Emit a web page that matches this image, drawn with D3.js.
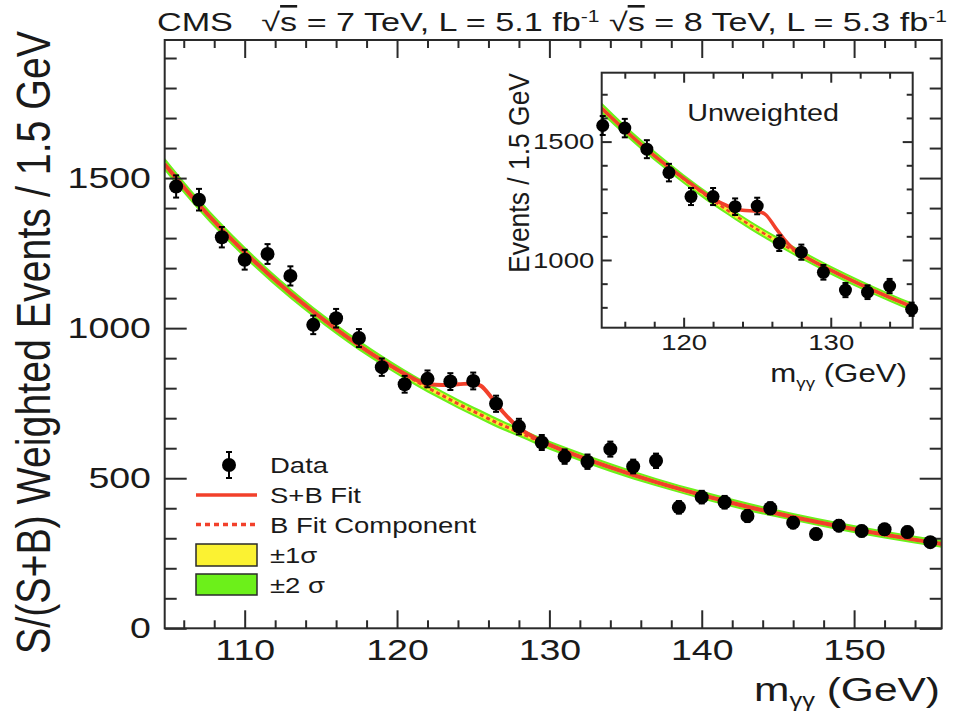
<!DOCTYPE html>
<html>
<head>
<meta charset="utf-8">
<script src="https://cdn.jsdelivr.net/npm/d3@7"></script>
<style>
  body { margin: 0; background: #fff; }
  svg { display: block; }
  text { font-family: "Liberation Sans", Arial, sans-serif; fill: #1a1a1a; }
</style>
</head>
<body>
<div class="chart"></div>
<script>
// ---- main plot: S/(S+B) weighted events, 1.5 GeV bins ----
const massBins = [105.5, 107, 108.5, 110, 111.5, 113, 114.5, 116, 117.5, 119, 120.5, 122,
  123.5, 125, 126.5, 128, 129.5, 131, 132.5, 134, 135.5, 137, 138.5, 140, 141.5, 143,
  144.5, 146, 147.5, 149, 150.5, 152, 153.5, 155]
const weightedEvents = [1472, 1428, 1303, 1228, 1247, 1174, 1011, 1033, 967, 870, 813, 831,
  822, 824, 748, 672, 619, 572, 555, 597, 539, 558, 403, 437, 420, 374, 400, 352, 314, 342,
  324, 330, 321, 287]
const weightedErrors = [37, 36, 34, 33, 33, 32, 31, 31, 30, 29, 28, 28, 28, 28, 27, 26, 25,
  24, 24, 25, 23, 24, 21, 21, 21, 20, 20, 19, 18, 19, 18, 18, 18, 17]

const fitMass = [104.75, 107, 110, 113, 116, 119, 120.5, 122, 123, 124, 125, 125.5, 126.3,
  127, 128, 129, 131, 134, 137, 140, 143, 146, 149, 152, 155.75]
const bFit = [1546, 1411, 1253, 1116, 997, 893, 846, 802, 775, 748, 723, 711, 691, 675, 653,
  631, 591, 536, 487, 444, 405, 371, 340, 312, 281]
const sbFit = [1546, 1411, 1253, 1116, 997, 893, 848, 814, 811, 813, 816, 808, 762, 718, 668,
  636, 591, 536, 487, 444, 405, 371, 340, 312, 281]
const band1 = [10, 9, 9, 8, 8, 8, 8, 8, 8, 8, 8, 8, 8, 8, 7, 7, 7, 7, 7, 7, 7, 6, 6, 6, 6]
const band2 = [22, 20, 19, 18, 17, 17, 16, 16, 16, 16, 16, 16, 16, 16, 15, 15, 15, 15, 14,
  14, 14, 13, 13, 13, 13]

const xTicksMain = [110, 120, 130, 140, 150]
const yTicksMain = [0, 500, 1000, 1500]

// ---- inset: unweighted events ----
const insetBins = [114.5, 116, 117.5, 119, 120.5, 122, 123.5, 125, 126.5, 128, 129.5, 131,
  132.5, 134, 135.5]
const insetEvents = [1568, 1557, 1468, 1369, 1268, 1268, 1225, 1228, 1071, 1033, 948, 873,
  864, 890, 792]
const insetErrors = [40, 39, 38, 37, 36, 36, 35, 35, 33, 32, 31, 30, 29, 30, 28]

const insetFitMass = [114.43, 116, 118, 120, 122, 123, 124, 125, 125.6, 126.2, 126.8, 127.4,
  128, 130, 132, 134, 135.57]
const insetB = [1641, 1549, 1441, 1342, 1251, 1209, 1168, 1129, 1107, 1085, 1063, 1042, 1022,
  957, 897, 842, 801]
const insetSB = [1641, 1549, 1441, 1345, 1258, 1228, 1210, 1206, 1190, 1140, 1090, 1050, 1024,
  957, 897, 842, 801]
const insetBand1 = [11, 10, 10, 9, 9, 9, 9, 9, 9, 9, 9, 9, 9, 9, 9, 9, 9]
const insetBand2 = [24, 22, 21, 20, 20, 19, 19, 19, 19, 19, 19, 19, 19, 19, 18, 18, 18]

const xTicksInset = [120, 130]
const yTicksInset = [1000, 1500]

const legendItems = ["Data", "S+B Fit", "B Fit Component", "\u00b11\u03c3", "\u00b12 \u03c3"]

const red = "#f2402b"
const yellow = "#fbf232"
const green = "#6cf01a"
const ink = "#2a2a2a"
const stretch = 1.25   // the picture's lettering is wide

function drawChart() {
  const dimensions = {
    width: 959,
    height: 715,
    margin: { top: 40, right: 17.3, bottom: 86.7, left: 164.7 },
  }
  dimensions.boundedWidth = dimensions.width - dimensions.margin.left - dimensions.margin.right
  dimensions.boundedHeight = dimensions.height - dimensions.margin.top - dimensions.margin.bottom

  const wrapper = d3.select(".chart")
    .append("svg")
    .attr("width", dimensions.width)
    .attr("height", dimensions.height)

  const bounds = wrapper.append("g")
    .attr("transform", `translate(${dimensions.margin.left},${dimensions.margin.top})`)

  const xScale = d3.scaleLinear()
    .domain([104.75, 155.75])
    .range([0, dimensions.boundedWidth])
  const yScale = d3.scaleLinear()
    .domain([0, 1960])
    .range([dimensions.boundedHeight, 0])

  drawPanel(bounds, {
    xScale, yScale,
    w: dimensions.boundedWidth, h: dimensions.boundedHeight,
    bins: massBins, values: weightedEvents, errors: weightedErrors,
    fitMass, bFit, sbFit, band1, band2,
    xMinor: 2, yMinor: 100, xMajor: xTicksMain, yMajor: yTicksMain,
    xMajorLen: 18, xMinorLen: 8, yMajorLen: 22, yMinorLen: 12,
    labelSize: 30, xPad: 10, yPad: 11, r: 7, lineWidth: 4,
  })

  // axis titles
  stretchedText(wrapper, 940, 701, "end", 34)
    .call(t => mgg(t))
  wrapper.append("text")
    .attr("transform", `translate(50,${(30 + 655) / 2}) scale(${stretch},1) rotate(-90)`)
    .attr("text-anchor", "middle")
    .attr("textLength", 623)
    .attr("lengthAdjust", "spacingAndGlyphs")
    .style("font-size", "39px")
    .text("S/(S+B) Weighted Events / 1.5 GeV")

  // header
  const header = wrapper.append("text")
    .attr("x", 157)
    .attr("y", 31)
    .attr("textLength", 790)
    .attr("lengthAdjust", "spacingAndGlyphs")
    .style("font-size", "26px")
  header.append("tspan").text("CMS\u00a0\u00a0\u00a0\u221a")
  header.append("tspan").style("text-decoration", "overline").text("s")
  header.append("tspan").text(" = 7 TeV, L = 5.1 fb")
  header.append("tspan").attr("dy", -9).style("font-size", "16px").text("-1")
  header.append("tspan").attr("dy", 9).text(" \u221a")
  header.append("tspan").style("text-decoration", "overline").text("s")
  header.append("tspan").text(" = 8 TeV, L = 5.3 fb")
  header.append("tspan").attr("dy", -9).style("font-size", "16px").text("-1")

  // legend
  const legend = wrapper.append("g")
  const legendY = [465, 495, 524.5, 555, 584.5]
  legend.append("line")
    .attr("x1", 229).attr("x2", 229).attr("y1", 452).attr("y2", 478)
    .attr("stroke", "#000").attr("stroke-width", 2)
  legend.selectAll(".cap").data([452, 478]).enter().append("line")
    .attr("x1", 226).attr("x2", 232).attr("y1", d => d).attr("y2", d => d)
    .attr("stroke", "#000").attr("stroke-width", 2)
  legend.append("circle")
    .attr("cx", 229).attr("cy", legendY[0]).attr("r", 7).attr("fill", "#000")
  legend.append("line")
    .attr("x1", 196).attr("x2", 257).attr("y1", legendY[1]).attr("y2", legendY[1])
    .attr("stroke", red).attr("stroke-width", 3.5)
  legend.append("line")
    .attr("x1", 196).attr("x2", 257).attr("y1", legendY[2]).attr("y2", legendY[2])
    .attr("stroke", red).attr("stroke-width", 3.5).attr("stroke-dasharray", "5 4")
  legend.append("rect")
    .attr("x", 196).attr("y", 544).attr("width", 61).attr("height", 22)
    .attr("fill", yellow).attr("stroke", ink).attr("stroke-width", 1.5)
  legend.append("rect")
    .attr("x", 196).attr("y", 574).attr("width", 61).attr("height", 21)
    .attr("fill", green).attr("stroke", ink).attr("stroke-width", 1.5)
  legendItems.forEach((label, i) => {
    stretchedText(legend, 270, legendY[i] + 8, "start", 22).text(label)
  })

  // ---- inset ----
  const inset = { left: 601.7, top: 72.7, right: 912.7, bottom: 327.7 }
  const insetG = wrapper.append("g")
    .attr("transform", `translate(${inset.left},${inset.top})`)
  const iw = inset.right - inset.left
  const ih = inset.bottom - inset.top
  insetG.append("rect").attr("width", iw).attr("height", ih).attr("fill", "#fff")

  const ixScale = d3.scaleLinear().domain([114.43, 135.57]).range([0, iw])
  const iyScale = d3.scaleLinear().domain([714, 1791]).range([ih, 0])

  drawPanel(insetG, {
    xScale: ixScale, yScale: iyScale, w: iw, h: ih,
    bins: insetBins, values: insetEvents, errors: insetErrors,
    fitMass: insetFitMass, bFit: insetB, sbFit: insetSB, band1: insetBand1, band2: insetBand2,
    xMinor: 2, yMinor: 100, xMajor: xTicksInset, yMajor: yTicksInset,
    xMajorLen: 10, xMinorLen: 6, yMajorLen: 10, yMinorLen: 6,
    labelSize: 22, xPad: 7, yPad: 6, r: 6.5, lineWidth: 3.5,
  })

  stretchedText(insetG, 763 - inset.left, 121 - inset.top, "middle", 23).text("Unweighted")
  stretchedText(wrapper, 907, 382, "end", 25).call(t => mgg(t))
  wrapper.append("text")
    .attr("transform", `translate(529,173) scale(${stretch},1) rotate(-90)`)
    .attr("text-anchor", "middle")
    .attr("textLength", 200)
    .attr("lengthAdjust", "spacingAndGlyphs")
    .style("font-size", "24px")
    .text("Events / 1.5 GeV")
}

function stretchedText(parent, x, y, anchor, size) {
  return parent.append("text")
    .attr("transform", `translate(${x},${y}) scale(${stretch},1)`)
    .attr("text-anchor", anchor)
    .style("font-size", `${size}px`)
}

function mgg(t) {
  t.append("tspan").text("m")
  t.append("tspan").attr("dy", 6).style("font-size", "0.6em").text("\u03b3\u03b3")
  t.append("tspan").attr("dy", -6).text(" (GeV)")
}

function drawPanel(g, o) {
  const { xScale, yScale, w, h } = o

  const clipId = "clip" + Math.round(w)
  g.append("clipPath").attr("id", clipId)
    .append("rect").attr("width", w).attr("height", h)
  const curves = g.append("g").attr("clip-path", `url(#${clipId})`)

  const idx = d3.range(o.fitMass.length)
  const bandArea = band => d3.area()
    .x(i => xScale(o.fitMass[i]))
    .y0(i => yScale(o.bFit[i] - band[i]))
    .y1(i => yScale(o.bFit[i] + band[i]))
    .curve(d3.curveMonotoneX)
  const fitLine = vals => d3.line()
    .x(i => xScale(o.fitMass[i]))
    .y(i => yScale(vals[i]))
    .curve(d3.curveMonotoneX)

  curves.append("path").attr("d", bandArea(o.band2)(idx)).attr("fill", green)
  curves.append("path").attr("d", bandArea(o.band1)(idx)).attr("fill", yellow)
  curves.append("path").attr("d", fitLine(o.bFit)(idx))
    .attr("fill", "none").attr("stroke", red).attr("stroke-width", o.lineWidth - 1)
    .attr("stroke-dasharray", "4 3")
  curves.append("path").attr("d", fitLine(o.sbFit)(idx))
    .attr("fill", "none").attr("stroke", red).attr("stroke-width", o.lineWidth)

  // frame + ticks (inward, mirrored on all four sides)
  const xMinorTicks = d3.range(Math.ceil(xScale.domain()[0] / o.xMinor) * o.xMinor,
    xScale.domain()[1], o.xMinor).filter(v => !o.xMajor.includes(v))
  const yMinorTicks = d3.range(Math.ceil(yScale.domain()[0] / o.yMinor) * o.yMinor,
    yScale.domain()[1], o.yMinor).filter(v => !o.yMajor.includes(v))

  const addAxis = (gen, tx, ty, ticks, len, labels) => {
    const a = g.append("g")
      .attr("transform", `translate(${tx},${ty})`)
      .call(gen.tickValues(ticks).tickSizeInner(-len).tickSizeOuter(0)
        .tickFormat(labels ? d3.format("d") : ""))
    a.select(".domain").remove()
    a.selectAll("line").attr("stroke", ink).attr("stroke-width", 2)
    a.selectAll("text").attr("fill", "#1a1a1a").style("font-size", `${o.labelSize}px`)
      .style("font-family", "'Liberation Sans', Arial, sans-serif")
    return a
  }

  addAxis(d3.axisBottom(xScale).tickPadding(o.xPad), 0, h, o.xMajor, o.xMajorLen, true)
    .selectAll("text").attr("transform", `scale(${stretch},1)`)
  addAxis(d3.axisBottom(xScale), 0, h, xMinorTicks, o.xMinorLen, false)
  addAxis(d3.axisTop(xScale), 0, 0, o.xMajor, o.xMajorLen, false)
  addAxis(d3.axisTop(xScale), 0, 0, xMinorTicks, o.xMinorLen, false)
  addAxis(d3.axisLeft(yScale).tickPadding(o.yPad), 0, 0, o.yMajor, o.yMajorLen, true)
    .selectAll("text").attr("transform", `scale(${stretch},1)`)
  addAxis(d3.axisLeft(yScale), 0, 0, yMinorTicks, o.yMinorLen, false)
  addAxis(d3.axisRight(yScale), w, 0, o.yMajor, o.yMajorLen, false)
  addAxis(d3.axisRight(yScale), w, 0, yMinorTicks, o.yMinorLen, false)

  g.append("rect")
    .attr("width", w).attr("height", h)
    .attr("fill", "none").attr("stroke", ink).attr("stroke-width", 2)

  // data points with error bars
  const pts = g.append("g").selectAll("g")
    .data(d3.range(o.bins.length))
    .enter().append("g")
    .attr("transform", i => `translate(${xScale(o.bins[i])},${yScale(o.values[i])})`)
  pts.append("line")
    .attr("y1", i => yScale(o.values[i] + o.errors[i]) - yScale(o.values[i]))
    .attr("y2", i => yScale(o.values[i] - o.errors[i]) - yScale(o.values[i]))
    .attr("stroke", "#000").attr("stroke-width", 2)
  pts.append("line")
    .attr("x1", -3).attr("x2", 3)
    .attr("y1", i => yScale(o.values[i] + o.errors[i]) - yScale(o.values[i]))
    .attr("y2", i => yScale(o.values[i] + o.errors[i]) - yScale(o.values[i]))
    .attr("stroke", "#000").attr("stroke-width", 2)
  pts.append("line")
    .attr("x1", -3).attr("x2", 3)
    .attr("y1", i => yScale(o.values[i] - o.errors[i]) - yScale(o.values[i]))
    .attr("y2", i => yScale(o.values[i] - o.errors[i]) - yScale(o.values[i]))
    .attr("stroke", "#000").attr("stroke-width", 2)
  pts.append("circle").attr("r", o.r).attr("fill", "#000")
}

drawChart()
</script>
</body>
</html>
